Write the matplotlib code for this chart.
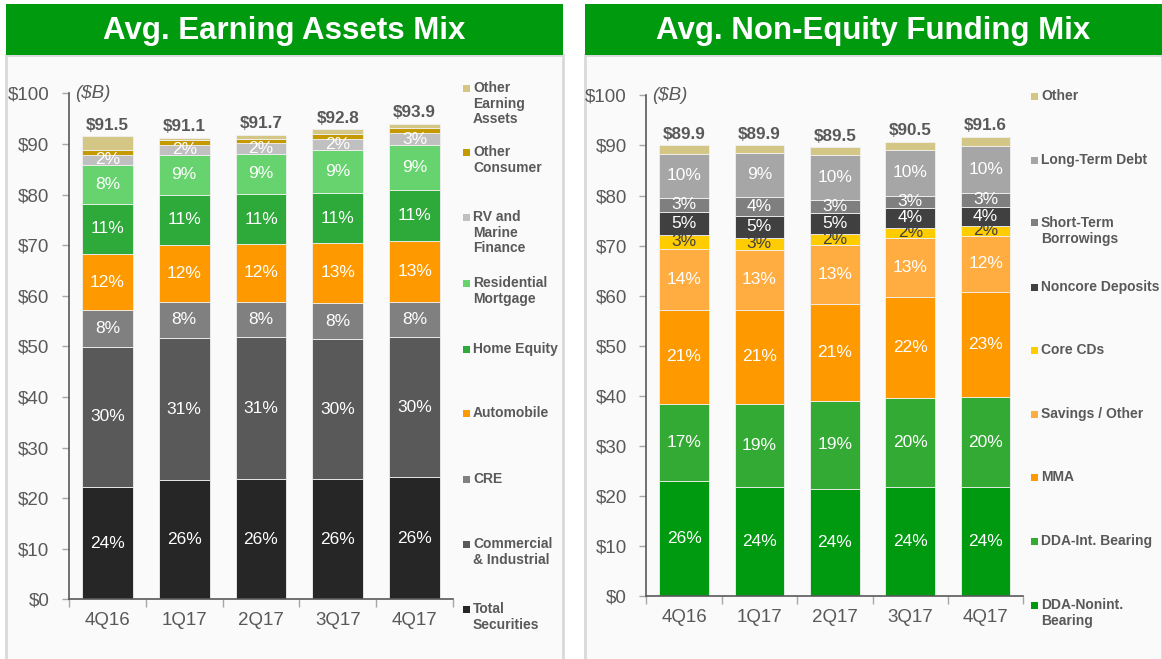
import matplotlib
matplotlib.use("Agg")
import matplotlib.pyplot as plt
from matplotlib.patches import Rectangle
import numpy as np
from matplotlib import font_manager

quarters = ["4Q16", "1Q17", "2Q17", "3Q17", "4Q17"]

# Avg. Earning Assets Mix ($B), bottom to top
assets_names = ["Total\nSecurities", "Commercial\n& Industrial", "CRE", "Automobile",
                "Home Equity", "Residential\nMortgage", "RV and\nMarine\nFinance",
                "Other\nConsumer", "Other\nEarning\nAssets"]
total_securities = [22.2, 23.5, 23.7, 23.7, 24.2]
commercial_industrial = [27.7, 28.1, 28.1, 27.7, 27.6]
cre = [7.3, 7.2, 7.0, 7.2, 7.0]
automobile = [11.0, 11.2, 11.4, 11.8, 12.1]
home_equity = [10.0, 10.0, 9.9, 9.8, 10.0]
residential_mortgage = [7.7, 7.9, 8.0, 8.5, 8.8]
rv_marine = [1.9, 1.9, 2.1, 2.3, 2.5]
other_consumer = [0.9, 0.9, 0.8, 1.0, 1.0]
other_earning = [2.8, 0.5, 0.8, 0.9, 0.8]
assets_pct = [["24%", "26%", "26%", "26%", "26%"],
              ["30%", "31%", "31%", "30%", "30%"],
              ["8%", "8%", "8%", "8%", "8%"],
              ["12%", "12%", "12%", "13%", "13%"],
              ["11%", "11%", "11%", "11%", "11%"],
              ["8%", "9%", "9%", "9%", "9%"],
              ["2%", "2%", "2%", "2%", "3%"],
              None, None]
assets_totals = ["$91.5", "$91.1", "$91.7", "$92.8", "$93.9"]
assets_colors = ["#262626", "#595959", "#808080", "#ff9900", "#2eaa3a",
                 "#66d36e", "#c0c0c0", "#c49a00", "#d4c785"]

# Avg. Non-Equity Funding Mix ($B), bottom to top
funding_names = ["DDA-Nonint.\nBearing", "DDA-Int. Bearing", "MMA", "Savings / Other",
                 "Core CDs", "Noncore Deposits", "Short-Term\nBorrowings",
                 "Long-Term Debt", "Other"]
dda_nonint = [23.0, 21.7, 21.4, 21.7, 21.7]
dda_int = [15.4, 16.7, 17.6, 17.9, 18.1]
mma = [18.7, 18.8, 19.3, 20.2, 20.9]
savings_other = [12.3, 12.0, 11.9, 11.7, 11.3]
core_cds = [2.7, 2.4, 2.1, 2.1, 2.0]
noncore = [4.7, 4.4, 4.3, 4.0, 3.8]
short_term = [2.8, 3.8, 2.6, 2.4, 2.8]
long_term = [8.6, 8.6, 8.8, 9.0, 9.2]
other_funding = [1.8, 1.6, 1.6, 1.7, 1.9]
funding_pct = [["26%", "24%", "24%", "24%", "24%"],
               ["17%", "19%", "19%", "20%", "20%"],
               ["21%", "21%", "21%", "22%", "23%"],
               ["14%", "13%", "13%", "13%", "12%"],
               ["3%", "3%", "2%", "2%", "2%"],
               ["5%", "5%", "5%", "4%", "4%"],
               ["3%", "4%", "3%", "3%", "3%"],
               ["10%", "9%", "10%", "10%", "10%"],
               None]
funding_totals = ["$89.9", "$89.9", "$89.5", "$90.5", "$91.6"]
funding_colors = ["#009a10", "#33aa33", "#ff9900", "#ffad40", "#ffcc00",
                  "#404040", "#7f7f7f", "#a6a6a6", "#d4c785"]

assets_series = [total_securities, commercial_industrial, cre, automobile, home_equity,
                 residential_mortgage, rv_marine, other_consumer, other_earning]
funding_series = [dda_nonint, dda_int, mma, savings_other, core_cds, noncore,
                  short_term, long_term, other_funding]

available = {f.name for f in font_manager.fontManager.ttflist}
base_font = "Liberation Sans" if "Liberation Sans" in available else "DejaVu Sans"
if "Liberation Sans Narrow" in available:
    title_font, title_size = "Liberation Sans Narrow", 26
else:
    title_font, title_size = base_font, 22.5
plt.rcParams["font.family"] = [base_font, "DejaVu Sans"]

W, H = 1162, 659
fig = plt.figure(figsize=(W / 100, H / 100), dpi=100)
fig.patch.set_facecolor("white")

GREY = "#595959"


def px_rect(x0, y0, x1, y1, **kw):
    r = Rectangle((x0 / W, 1 - y1 / H), (x1 - x0) / W, (y1 - y0) / H,
                  transform=fig.transFigure, **kw)
    fig.add_artist(r)


# panels
for (x0, x1) in [(6, 563), (585, 1162)]:
    px_rect(x0, 55, x1, 662, facecolor="#fafafa", edgecolor="#d9d9d9", linewidth=2, zorder=0)
    px_rect(x0, 4, x1, 55, facecolor="#009a0e", edgecolor="none", zorder=1)

fig.text((6 + 563) / 2 / W, 1 - 31 / H, "Avg. Earning Assets Mix", color="white",
         fontsize=title_size, fontweight="bold", family=[title_font, "DejaVu Sans"],
         ha="center", va="center")
fig.text((585 + 1162) / 2 / W, 1 - 31 / H, "Avg. Non-Equity Funding Mix", color="white",
         fontsize=title_size, fontweight="bold", family=[title_font, "DejaVu Sans"],
         ha="center", va="center")


def draw_panel(ax_px, series, colors, pcts, totals, names, legend_x, legend_y,
               dark_text_idx=None):
    x0, x1, ybot, ytop = ax_px
    ax = fig.add_axes([x0 / W, 1 - ybot / H, (x1 - x0) / W, (ybot - ytop) / H])
    ax.set_facecolor("none")
    x = np.arange(len(quarters))
    bottom = np.zeros(len(quarters))
    for i, (vals, col) in enumerate(zip(series, colors)):
        vals = np.array(vals)
        ax.bar(x, vals, width=0.66, bottom=bottom, color=col,
               edgecolor="#f0f0f0", linewidth=0.6, zorder=2)
        if pcts[i] is not None:
            tc = "#404040" if (dark_text_idx is not None and i == dark_text_idx) else "white"
            for j in range(len(quarters)):
                ax.text(x[j], bottom[j] + vals[j] / 2, pcts[i][j], ha="center",
                        va="center", color=tc, fontsize=12.5, zorder=3)
        bottom = bottom + vals
    for j in range(len(quarters)):
        ax.text(x[j], bottom[j] + 0.7, totals[j], ha="center", va="bottom",
                color=GREY, fontsize=12.3, fontweight="bold", zorder=3)
    ax.set_xlim(-0.5, len(quarters) - 0.5)
    ax.set_ylim(0, 100)
    ax.set_yticks(np.arange(0, 101, 10))
    ax.set_yticklabels([f"${v}" for v in range(0, 101, 10)])
    ax.set_xticks(x)
    ax.set_xticklabels(quarters)
    ax.set_xticks(np.arange(-0.5, len(quarters), 1.0), minor=True)
    ax.tick_params(axis="y", direction="out", length=5, width=1, color="#a6a6a6",
                   labelsize=13.5, labelcolor=GREY, pad=9)
    ax.tick_params(axis="x", which="major", length=0, labelsize=13.5,
                   labelcolor=GREY, pad=9)
    ax.tick_params(axis="x", which="minor", direction="out", length=6, width=1,
                   color="#a6a6a6")
    for s in ["top", "right"]:
        ax.spines[s].set_visible(False)
    for s in ["left", "bottom"]:
        ax.spines[s].set_color("#595959")
        ax.spines[s].set_linewidth(1.2)
    ax.text(0.015, 1.0, "($B)", transform=ax.transAxes, ha="left", va="center",
            style="italic", color=GREY, fontsize=13.5)
    # legend
    for k, name in enumerate(names[::-1]):
        col = colors[::-1][k]
        yy = legend_y[k]
        px_rect(legend_x, yy - 3.5, legend_x + 7, yy + 3.5, facecolor=col,
                edgecolor="none", zorder=3)
        fig.text((legend_x + 10) / W, 1 - (yy - 7) / H, name, ha="left", va="top",
                 color=GREY, fontsize=10, fontweight="bold", linespacing=1.15)
    return ax


draw_panel((69, 453, 599.3, 93.3), assets_series, assets_colors, assets_pct,
           assets_totals, assets_names, 463,
           [88, 152, 217, 283, 349, 413, 479, 544, 609])
draw_panel((646.3, 1023.3, 596, 95.4), funding_series, funding_colors, funding_pct,
           funding_totals, funding_names, 1031,
           [96, 160, 223, 287, 350, 414, 477, 541, 605], dark_text_idx=4)

fig.savefig("out.png", dpi=100, facecolor="white")
